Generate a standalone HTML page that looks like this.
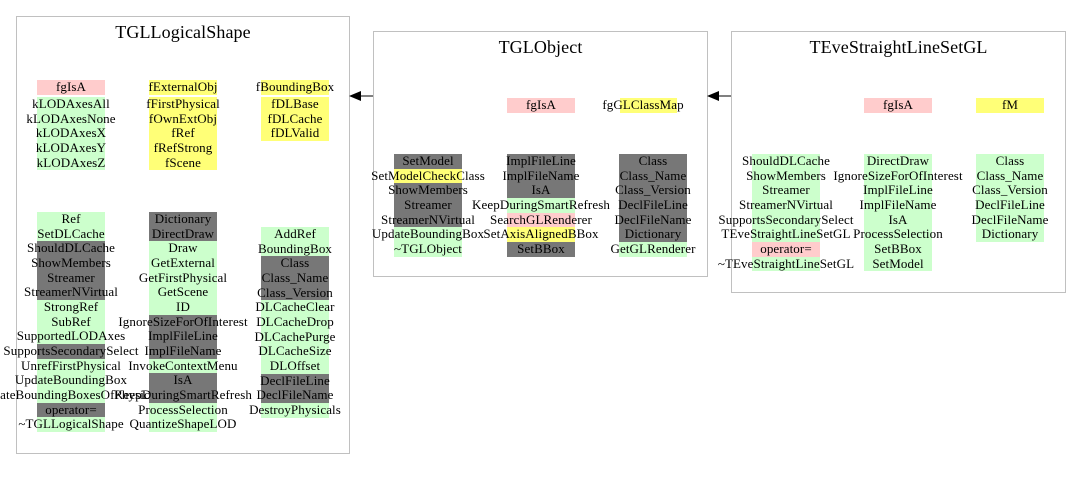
<!DOCTYPE html>
<html><head><meta charset="utf-8"><style>
body{margin:0;width:1080px;height:480px;background:#fff;position:relative;overflow:hidden;font-family:"Liberation Serif",serif;font-size:13px;letter-spacing:0.1px;color:#000}
.box{position:absolute;border:1px solid #c0c0c0;background:#fff}
.t{position:absolute;font-size:18px;text-align:center;white-space:nowrap}
.c{position:absolute}
.c div{height:14.67px;line-height:14.67px;display:flex;justify-content:center;white-space:nowrap}
.g{background:#ccffcc}.d{background:#777}.p{background:#ffcccc}.y{background:#ffff77}
</style></head><body>
<div class="box" style="left:16px;top:16px;width:332px;height:436px"></div>
<div class="t" style="left:16px;top:22px;width:334px">TGLLogicalShape</div>
<div class="box" style="left:373px;top:31px;width:333px;height:244px"></div>
<div class="t" style="left:373px;top:37px;width:335px">TGLObject</div>
<div class="box" style="left:731px;top:31px;width:333px;height:260px"></div>
<div class="t" style="left:731px;top:37px;width:335px">TEveStraightLineSetGL</div>

<svg style="position:absolute;left:0;top:0" width="1080" height="480">
<line x1="373" y1="96" x2="358" y2="96" stroke="#000"/>
<polygon points="349,96 361,91 361,101" fill="#000"/>
<line x1="731" y1="96" x2="716" y2="96" stroke="#000"/>
<polygon points="707,96 719,91 719,101" fill="#000"/>
</svg>

<div class="c" style="left:37px;top:80px;width:68px"><div class="p">fgIsA</div></div>
<div class="c" style="left:37px;top:97px;width:68px"><div class="g">kLODAxesAll</div><div class="g">kLODAxesNone</div><div class="g">kLODAxesX</div><div class="g">kLODAxesY</div><div class="g">kLODAxesZ</div></div>
<div class="c" style="left:149px;top:80px;width:68px"><div class="y">fExternalObj</div></div>
<div class="c" style="left:149px;top:97px;width:68px"><div class="y">fFirstPhysical</div><div class="y">fOwnExtObj</div><div class="y">fRef</div><div class="y">fRefStrong</div><div class="y">fScene</div></div>
<div class="c" style="left:261px;top:80px;width:68px"><div class="y">fBoundingBox</div></div>
<div class="c" style="left:261px;top:97px;width:68px"><div class="y">fDLBase</div><div class="y">fDLCache</div><div class="y">fDLValid</div></div>

<div class="c" style="left:37px;top:212px;width:68px">
<div class="g">Ref</div><div class="g">SetDLCache</div><div class="d">ShouldDLCache</div><div class="d">ShowMembers</div><div class="d">Streamer</div><div class="d">StreamerNVirtual</div><div class="g">StrongRef</div><div class="g">SubRef</div><div class="g">SupportedLODAxes</div><div class="d">SupportsSecondarySelect</div><div class="g">UnrefFirstPhysical</div><div class="g">UpdateBoundingBox</div><div class="g">UpdateBoundingBoxesOfPhysicals</div><div class="d">operator=</div><div class="g">~TGLLogicalShape</div></div>
<div class="c" style="left:149px;top:212px;width:68px">
<div class="d">Dictionary</div><div class="d">DirectDraw</div><div class="g">Draw</div><div class="g">GetExternal</div><div class="g">GetFirstPhysical</div><div class="g">GetScene</div><div class="g">ID</div><div class="d">IgnoreSizeForOfInterest</div><div class="d">ImplFileLine</div><div class="d">ImplFileName</div><div class="g">InvokeContextMenu</div><div class="d">IsA</div><div class="d">KeepDuringSmartRefresh</div><div class="g">ProcessSelection</div><div class="g">QuantizeShapeLOD</div></div>
<div class="c" style="left:261px;top:227px;width:68px">
<div class="g">AddRef</div><div class="g">BoundingBox</div><div class="d">Class</div><div class="d">Class_Name</div><div class="d">Class_Version</div><div class="g">DLCacheClear</div><div class="g">DLCacheDrop</div><div class="g">DLCachePurge</div><div class="g">DLCacheSize</div><div class="g">DLOffset</div><div class="d">DeclFileLine</div><div class="d">DeclFileName</div><div class="g">DestroyPhysicals</div></div>

<div class="c" style="left:507px;top:98px;width:68px"><div class="p">fgIsA</div></div>
<div class="c" style="left:609px;top:98px;width:68px"><div style="background:linear-gradient(to right,transparent 11px,#ffff77 11px)">fgGLClassMap</div></div>
<div class="c" style="left:394px;top:154px;width:68px">
<div class="d">SetModel</div><div class="y">SetModelCheckClass</div><div class="d">ShowMembers</div><div class="d">Streamer</div><div class="d">StreamerNVirtual</div><div class="g">UpdateBoundingBox</div><div class="g">~TGLObject</div></div>
<div class="c" style="left:507px;top:154px;width:68px">
<div class="d">ImplFileLine</div><div class="d">ImplFileName</div><div class="d">IsA</div><div class="g">KeepDuringSmartRefresh</div><div class="p">SearchGLRenderer</div><div class="y">SetAxisAlignedBBox</div><div class="d">SetBBox</div></div>
<div class="c" style="left:619px;top:154px;width:68px">
<div class="d">Class</div><div class="d">Class_Name</div><div class="d">Class_Version</div><div class="d">DeclFileLine</div><div class="d">DeclFileName</div><div class="d">Dictionary</div><div class="g">GetGLRenderer</div></div>

<div class="c" style="left:864px;top:98px;width:68px"><div class="p">fgIsA</div></div>
<div class="c" style="left:976px;top:98px;width:68px"><div class="y">fM</div></div>
<div class="c" style="left:752px;top:154px;width:68px">
<div class="g">ShouldDLCache</div><div class="g">ShowMembers</div><div class="g">Streamer</div><div class="g">StreamerNVirtual</div><div class="g">SupportsSecondarySelect</div><div class="g">TEveStraightLineSetGL</div><div class="p">operator=</div><div class="g">~TEveStraightLineSetGL</div></div>
<div class="c" style="left:864px;top:154px;width:68px">
<div class="g">DirectDraw</div><div class="g">IgnoreSizeForOfInterest</div><div class="g">ImplFileLine</div><div class="g">ImplFileName</div><div class="g">IsA</div><div class="g">ProcessSelection</div><div class="g">SetBBox</div><div class="g">SetModel</div></div>
<div class="c" style="left:976px;top:154px;width:68px">
<div class="g">Class</div><div class="g">Class_Name</div><div class="g">Class_Version</div><div class="g">DeclFileLine</div><div class="g">DeclFileName</div><div class="g">Dictionary</div></div>
</body></html>
